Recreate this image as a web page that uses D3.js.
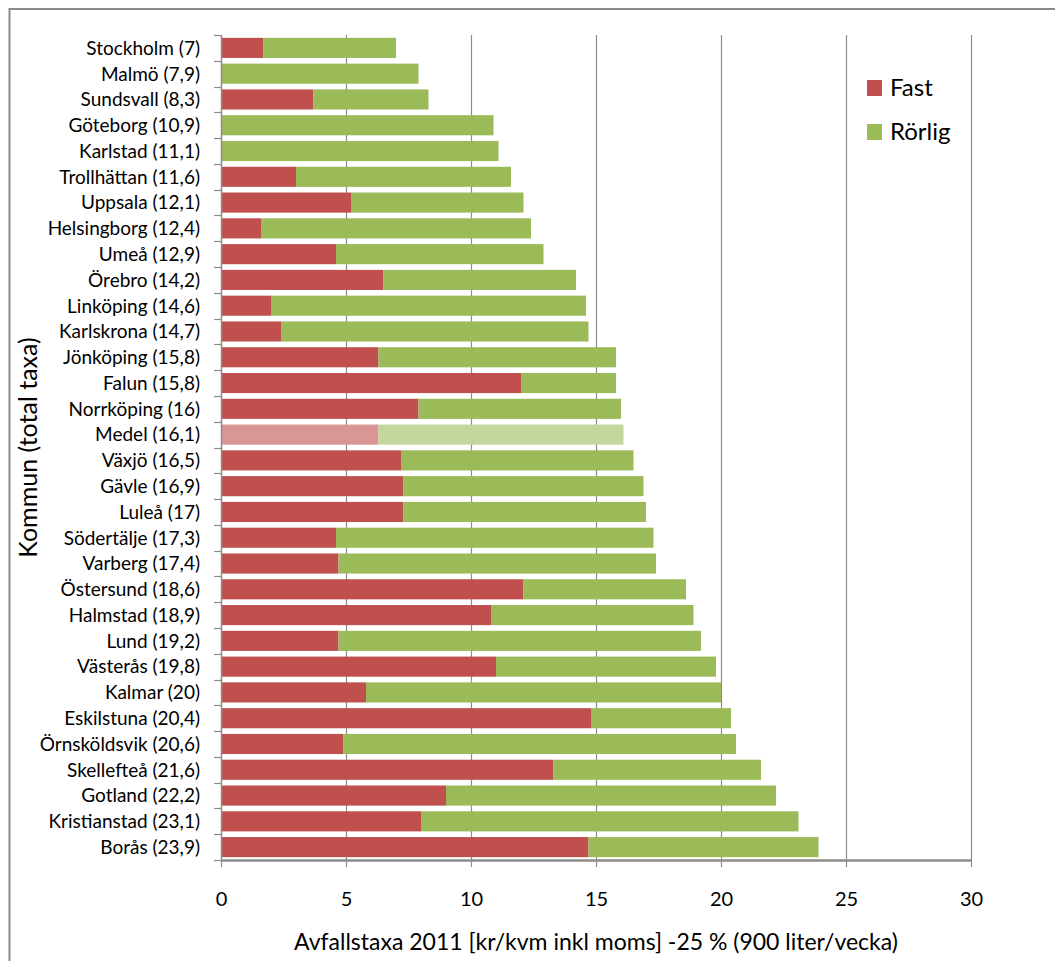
<!DOCTYPE html>
<html>
<head>
<meta charset="utf-8">
<script src="https://cdn.jsdelivr.net/npm/d3@7/dist/d3.min.js"></script>
<style>
  html, body { margin: 0; padding: 0; background: #fff; overflow: hidden; }
  svg { display: block; font-family: Lato, "Open Sans", sans-serif; }
</style>
</head>
<body>
<svg id="chart" width="1055" height="961"></svg>
<script>
// Kommuner, sorted by total waste tariff (kr/kvm incl. moms)
const kommuner = [
  "Stockholm", "Malmö", "Sundsvall", "Göteborg", "Karlstad", "Trollhättan",
  "Uppsala", "Helsingborg", "Umeå", "Örebro", "Linköping", "Karlskrona",
  "Jönköping", "Falun", "Norrköping", "Medel", "Växjö", "Gävle", "Luleå",
  "Södertälje", "Varberg", "Östersund", "Halmstad", "Lund", "Västerås",
  "Kalmar", "Eskilstuna", "Örnsköldsvik", "Skellefteå", "Gotland",
  "Kristianstad", "Borås"
];

// Fixed part of the tariff
const fast = [
  1.7, 0, 3.7, 0, 0, 3.0,
  5.2, 1.6, 4.6, 6.5, 2.0, 2.4,
  6.3, 12.0, 7.9, 6.3, 7.2, 7.3, 7.3,
  4.6, 4.7, 12.1, 10.8, 4.7, 11.0,
  5.8, 14.8, 4.9, 13.3, 9.0,
  8.0, 14.7
];

// Variable part of the tariff
const rorlig = [
  5.3, 7.9, 4.6, 10.9, 11.1, 8.6,
  6.9, 10.8, 8.3, 7.7, 12.6, 12.3,
  9.5, 3.8, 8.1, 9.8, 9.3, 9.6, 9.7,
  12.7, 12.7, 6.5, 8.1, 14.5, 8.8,
  14.2, 5.6, 15.7, 8.3, 13.2,
  15.1, 9.2
];

const xTicks = [0, 5, 10, 15, 20, 25, 30];
const seriesNames = ["Fast", "Rörlig"];
const xTitle = "Avfallstaxa 2011 [kr/kvm inkl moms] -25 % (900 liter/vecka)";
const yTitle = "Kommun (total taxa)";

const colors = { Fast: "#C0504D", "Rörlig": "#9BBB59" };
const colorsMedel = { Fast: "#D99694", "Rörlig": "#C3D69B" };

const fmt = v => d3.format(".1f")(v).replace(".", ",").replace(/,0$/, "");

const rows = kommuner.map((k, i) => ({
  kommun: k,
  label: k + " (" + fmt(fast[i] + rorlig[i]) + ")",
  Fast: fast[i],
  "Rörlig": rorlig[i]
}));

const svg = d3.select("#chart");

// Outer chart-area frame (runs off the right and bottom edge)
svg.append("rect")
  .attr("x", 9.5).attr("y", 9)
  .attr("width", 1100).attr("height", 1000)
  .attr("fill", "none")
  .attr("stroke", "#8a8a8a")
  .attr("stroke-width", 2);

const plotLeft = 221, plotRight = 971, plotTop = 35, plotBottom = 860;

const x = d3.scaleLinear().domain([0, 30]).range([plotLeft, plotRight]);
const y = d3.scaleBand()
  .domain(rows.map(d => d.label))
  .range([plotTop, plotBottom])
  .paddingInner(0.22)
  .paddingOuter(0.11);

// Vertical gridlines
svg.append("g")
  .selectAll("line")
  .data(xTicks.filter(t => t > 0))
  .join("line")
  .attr("x1", d => Math.round(x(d)) + 0.5)
  .attr("x2", d => Math.round(x(d)) + 0.5)
  .attr("y1", plotTop)
  .attr("y2", plotBottom)
  .attr("stroke", "#8c8c8c")
  .attr("stroke-width", 1.2);

// Stacked bars
const stacked = d3.stack().keys(seriesNames)(rows);

svg.append("g")
  .selectAll("g")
  .data(stacked)
  .join("g")
  .each(function (series) {
    d3.select(this).selectAll("rect")
      .data(series)
      .join("rect")
      .attr("x", d => x(d[0]))
      .attr("width", d => Math.max(0, x(d[1]) - x(d[0])))
      .attr("y", d => y(d.data.label))
      .attr("height", y.bandwidth())
      .attr("fill", d => d.data.kommun === "Medel" ? colorsMedel[series.key] : colors[series.key]);
  });

// Y axis: category labels
const yAxis = d3.axisLeft(y).tickSize(0).tickPadding(21);
const gy = svg.append("g")
  .attr("transform", `translate(${plotLeft},0)`)
  .call(yAxis);
gy.select(".domain").remove();
gy.selectAll("text")
  .attr("font-family", "Lato, sans-serif")
  .attr("font-size", 19)
  .attr("fill", "#000")
  .attr("dy", "0.36em");

// Y axis line and tick marks at category boundaries
const step = y.step();
const bounds = rows.map(d => y(d.label) - step * y.paddingInner() / 2);
bounds.push(bounds[bounds.length - 1] + step);
svg.append("line")
  .attr("x1", plotLeft + 0.5).attr("x2", plotLeft + 0.5)
  .attr("y1", plotTop).attr("y2", plotBottom)
  .attr("stroke", "#8c8c8c").attr("stroke-width", 1.5);
svg.append("g")
  .selectAll("line")
  .data(bounds)
  .join("line")
  .attr("x1", plotLeft - 7).attr("x2", plotLeft)
  .attr("y1", d => Math.round(d) + 0.5)
  .attr("y2", d => Math.round(d) + 0.5)
  .attr("stroke", "#8c8c8c").attr("stroke-width", 1.2);

// X axis
const xAxis = d3.axisBottom(x).tickValues(xTicks).tickSize(7).tickPadding(25)
  .tickFormat(d => String(d));
const gx = svg.append("g")
  .attr("transform", `translate(0,${plotBottom})`)
  .call(xAxis);
gx.select(".domain").attr("stroke", "#8c8c8c").attr("stroke-width", 2.5)
  .attr("d", `M${plotLeft},0.5H${plotRight}`);
gx.selectAll(".tick line").attr("stroke", "#8c8c8c").attr("stroke-width", 1.2);
gx.selectAll("text")
  .attr("font-family", "Lato, sans-serif")
  .attr("font-size", 20)
  .attr("fill", "#000");

// Axis titles
svg.append("text")
  .attr("x", 596).attr("y", 950)
  .attr("text-anchor", "middle")
  .attr("font-size", 23)
  .attr("fill", "#000")
  .text(xTitle);

svg.append("text")
  .attr("transform", `translate(37,${(plotTop + plotBottom) / 2}) rotate(-90)`)
  .attr("text-anchor", "middle")
  .attr("font-size", 25)
  .attr("fill", "#000")
  .text(yTitle);

// Legend
const legend = svg.append("g").attr("transform", "translate(867,80)");
const li = legend.selectAll("g")
  .data(seriesNames)
  .join("g")
  .attr("transform", (d, i) => `translate(0,${i * 44})`);
li.append("rect")
  .attr("width", 15).attr("height", 16)
  .attr("fill", d => colors[d]);
li.append("text")
  .attr("x", 23).attr("y", 16)
  .attr("font-size", 24)
  .attr("fill", "#000")
  .text(d => d);
</script>
</body>
</html>
